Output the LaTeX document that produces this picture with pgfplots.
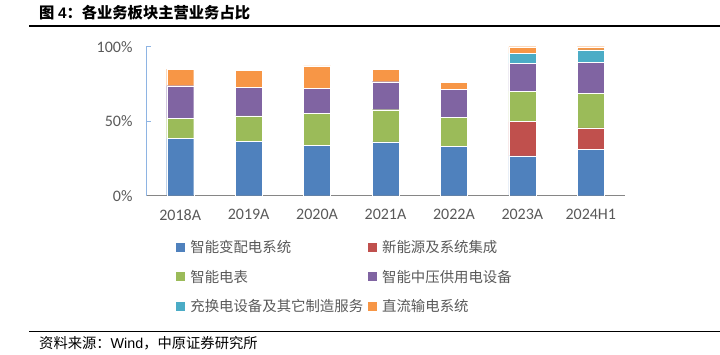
\documentclass[border=0pt]{standalone}
\usepackage{pgfplots}
\pgfplotsset{compat=1.18}
\usepackage{fontspec}
\setmainfont{Carlito}
\newfontfamily\cjk{Noto Sans CJK SC}
\newfontfamily\arial{Liberation Sans}
\definecolor{cBlue}{HTML}{4F81BD}
\definecolor{cRed}{HTML}{C0504D}
\definecolor{cGreen}{HTML}{9BBB59}
\definecolor{cPurple}{HTML}{8064A2}
\definecolor{cCyan}{HTML}{4BACC6}
\definecolor{cOrange}{HTML}{F79646}
\definecolor{txtgray}{HTML}{595959}
\definecolor{yaxisblue}{HTML}{8EB4E3}
\definecolor{xaxisgray}{HTML}{868686}
\begin{document}
\begin{tikzpicture}
\useasboundingbox (0pt,0pt) rectangle (720pt,354pt);
\node[anchor=west,inner sep=0] at (39pt,341pt) {\cjk\bfseries\fontsize{15.3}{17}\selectfont 图 {\arial\bfseries 4}：各业务板块主营业务占比};
\draw[line width=2.2pt] (29pt,328pt) -- (720pt,328pt);
\draw[line width=1.3pt] (29pt,22.3pt) -- (720pt,22.3pt);
\node[anchor=west,inner sep=0] at (39pt,11pt) {\cjk\fontsize{14.3}{16}\selectfont 资料来源：{\arial Wind}，中原证券研究所};
\begin{axis}[
  at={(146pt,158.3pt)}, anchor=south west,
  scale only axis, width=479pt, height=149pt,
  xmin=-0.5, xmax=6.5, ymin=0, ymax=100,
  ybar stacked, bar width=27pt,
  axis x line*=bottom, axis y line*=left,
  x axis line style={xaxisgray, line width=1pt, -},
  y axis line style={yaxisblue, line width=1pt, -},
  xtick={0,...,6},
  xticklabels={2018A,2019A,2020A,2021A,2022A,2023A,2024H1},
  ytick={0,50,100},
  yticklabels={0\%,50\%,100\%},
  xtick style={draw=none},
  ytick style={yaxisblue, line width=1pt},
  tick align=inside, major tick length=5pt,
  tick label style={font=\fontsize{16}{18}\selectfont, text=txtgray},
  yticklabel style={xshift=-10pt},
  xticklabel style={yshift=-10pt},
  legend columns=2,
  legend cell align=left,
  legend style={at={(rel axis cs:0.063,-0.285)}, anchor=north west, draw=none, fill=none,
    font=\cjk\fontsize{14.4}{17}\selectfont, text=txtgray,
    /tikz/every odd column/.append style={column sep=3pt},
    /tikz/every even column/.append style={column sep=3pt},
    row sep=12pt, inner sep=0pt},
  legend image code/.code={\fill[#1,draw=none] (0pt,-4.5pt) rectangle (9pt,4.5pt);},
  every axis plot/.append style={draw=white, line width=0.4pt},
]
\addplot[fill=cBlue] coordinates {(0,38.5) (1,36.5) (2,33.8) (3,36.2) (4,32.9) (5,26.8) (6,31.1)};
\addplot[fill=cRed] coordinates {(0,0) (1,0) (2,0) (3,0) (4,0) (5,22.9) (6,14.5)};
\addplot[fill=cGreen] coordinates {(0,13.4) (1,17.0) (2,21.7) (3,21.5) (4,19.9) (5,20.5) (6,23.3)};
\addplot[fill=cPurple] coordinates {(0,21.9) (1,19.0) (2,16.5) (3,18.8) (4,18.6) (5,18.6) (6,20.6)};
\addplot[fill=cCyan] coordinates {(0,0) (1,0) (2,0) (3,0) (4,0) (5,6.7) (6,8.3)};
\addplot[fill=cOrange] coordinates {(0,11.2) (1,11.8) (2,15.2) (3,8.3) (4,4.7) (5,4.5) (6,2.2)};
\legend{智能变配电系统,新能源及系统集成,智能电表,智能中压供用电设备,充换电设备及其它制造服务,直流输电系统}
\end{axis}
\end{tikzpicture}
\end{document}
